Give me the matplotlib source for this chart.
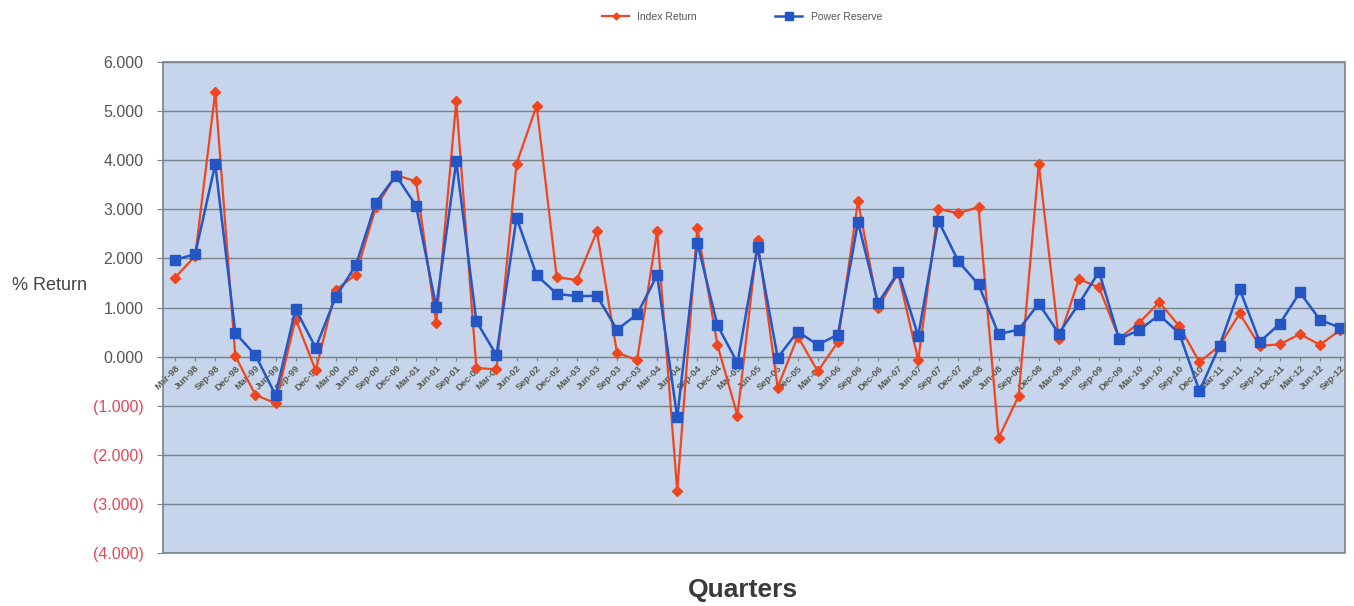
import matplotlib.pyplot as plt
from matplotlib.patches import Rectangle
from matplotlib.ticker import FixedLocator, FuncFormatter

plt.rcParams["font.family"] = ["Liberation Sans", "DejaVu Sans"]

# quarters Mar-98 .. Sep-12
quarters = [
    "Mar-98", "Jun-98", "Sep-98", "Dec-98", "Mar-99", "Jun-99", "Sep-99", "Dec-99",
    "Mar-00", "Jun-00", "Sep-00", "Dec-00", "Mar-01", "Jun-01", "Sep-01", "Dec-01",
    "Mar-02", "Jun-02", "Sep-02", "Dec-02", "Mar-03", "Jun-03", "Sep-03", "Dec-03",
    "Mar-04", "Jun-04", "Sep-04", "Dec-04", "Mar-05", "Jun-05", "Sep-05", "Dec-05",
    "Mar-06", "Jun-06", "Sep-06", "Dec-06", "Mar-07", "Jun-07", "Sep-07", "Dec-07",
    "Mar-08", "Jun-08", "Sep-08", "Dec-08", "Mar-09", "Jun-09", "Sep-09", "Dec-09",
    "Mar-10", "Jun-10", "Sep-10", "Dec-10", "Mar-11", "Jun-11", "Sep-11", "Dec-11",
    "Mar-12", "Jun-12", "Sep-12",
]

index_return = [
    1.61, 2.05, 5.39, 0.01, -0.78, -0.95, 0.77, -0.28,
    1.36, 1.67, 3.05, 3.70, 3.57, 0.68, 5.20, -0.23,
    -0.26, 3.93, 5.11, 1.62, 1.56, 2.55, 0.08, -0.07,
    2.55, -2.73, 2.63, 0.24, -1.20, 2.38, -0.63, 0.41,
    -0.30, 0.30, 3.17, 1.00, 1.70, -0.07, 3.01, 2.92,
    3.05, -1.66, -0.80, 3.93, 0.35, 1.58, 1.41, 0.37,
    0.69, 1.11, 0.62, -0.11, 0.22, 0.88, 0.22, 0.25,
    0.46, 0.24, 0.54,
]

power_reserve = [
    1.97, 2.09, 3.92, 0.48, 0.03, -0.78, 0.97, 0.18,
    1.22, 1.86, 3.14, 3.69, 3.07, 1.01, 3.98, 0.72,
    0.03, 2.83, 1.66, 1.28, 1.23, 1.24, 0.55, 0.86,
    1.66, -1.24, 2.32, 0.64, -0.13, 2.23, -0.02, 0.51,
    0.24, 0.45, 2.74, 1.09, 1.72, 0.42, 2.77, 1.94,
    1.47, 0.46, 0.55, 1.08, 0.47, 1.08, 1.73, 0.36,
    0.54, 0.85, 0.47, -0.70, 0.22, 1.38, 0.30, 0.67,
    1.31, 0.75, 0.59,
]

y_ticks = [6, 5, 4, 3, 2, 1, 0, -1, -2, -3, -4]

RED = "#f0461e"
BLUE = "#2456c6"
GRID = "#78838a"

fig = plt.figure(figsize=(13.54, 6.06), dpi=100)
ax = fig.add_axes([0.1204, 0.0875, 0.8730, 0.810])
ax.set_facecolor("#c6d5eb")

x = list(range(len(quarters)))
ax.plot(x, index_return, color=RED, lw=1.6, marker="D", ms=5,
        mec=RED, mfc=RED, label="Index Return", zorder=3)
ax.plot(x, power_reserve, color=BLUE, lw=1.8, marker="s", ms=7.5,
        mec=BLUE, mfc=BLUE, label="Power Reserve", zorder=4)

ax.set_xlim(-0.6, len(quarters) - 1 + 0.25)
ax.set_ylim(-4, 6)

# horizontal gridlines
ax.yaxis.set_major_locator(FixedLocator(y_ticks))
ax.grid(axis="y", color=GRID, lw=1.0)
ax.set_axisbelow(True)


def fmt(v, pos):
    if v < 0:
        return "({:.3f})".format(-v)
    return "{:.3f}".format(v)


ax.yaxis.set_major_formatter(FuncFormatter(fmt))
ax.tick_params(axis="y", labelsize=11.5, length=4, color=GRID, pad=10)
for lab, v in zip(ax.get_yticklabels(), ax.get_yticks()):
    lab.set_color("#e0485a" if v < 0 else "#555555")

# category axis sits on the zero line
for s in ["top", "right", "left"]:
    ax.spines[s].set_visible(False)
ax.spines["bottom"].set_position(("data", 0))
ax.spines["bottom"].set_color(GRID)
ax.set_xticks(x)
ax.set_xticklabels(quarters, rotation=45, ha="right", va="top",
                   rotation_mode="anchor", fontsize=6.8, fontweight="bold",
                   color="#5a5a50")
ax.tick_params(axis="x", length=3, color=GRID, pad=2)

# plot frame
ax.add_patch(Rectangle((0, 0), 1, 1, transform=ax.transAxes, fill=False,
                       edgecolor=GRID, lw=1.2, clip_on=False, zorder=5))

ax.set_ylabel("% Return", rotation=0, fontsize=13, color="#444444",
              ha="left", va="center")
ax.yaxis.set_label_coords(-0.128, 0.545)

fig.text(0.549, 0.027, "Quarters", fontsize=19, fontweight="bold",
         color="#3a3a3a", ha="center", va="center")

fig.legend(loc="center", bbox_to_anchor=(0.548, 0.972), ncol=2, frameon=False,
           fontsize=7.5, handlelength=2.6, columnspacing=7.5, markerscale=0.7,
           labelcolor="#555555")

fig.savefig("out.png", dpi=100, facecolor="white")
